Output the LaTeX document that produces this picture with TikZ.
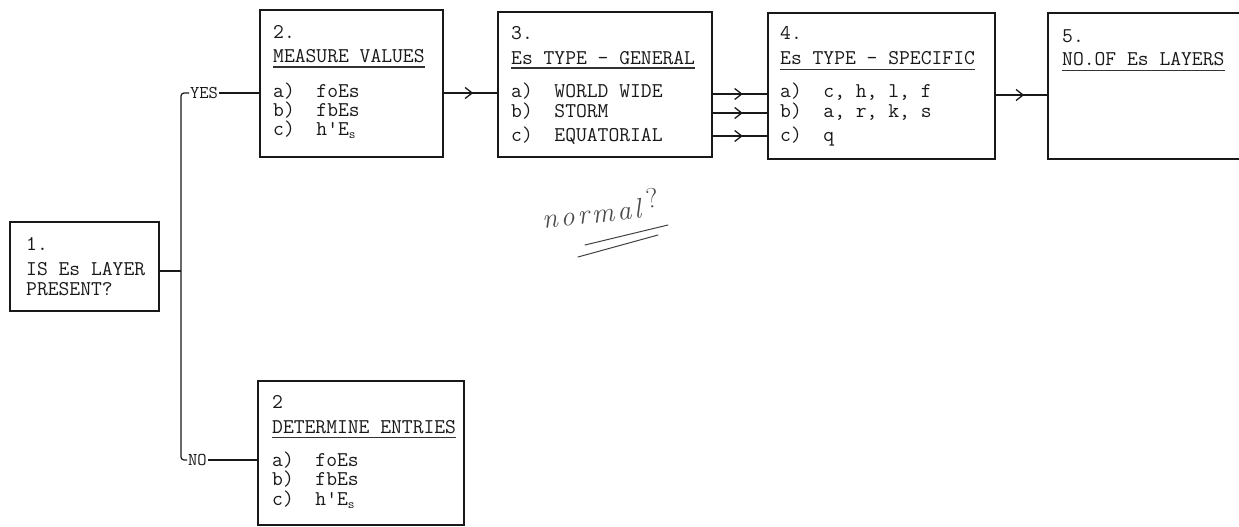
\documentclass[tikz,border=0pt]{standalone}
\usepackage{fontspec}
\usetikzlibrary{arrows.meta,decorations.markings}
\newcommand{\subS}{\raisebox{-3.5pt}{\fontsize{13}{13}\selectfont s}}
\tikzset{
  box/.style={draw=black!90, line width=1.3pt, minimum width=#1, inner sep=0pt, rectangle},
  txt/.style={anchor=base west, inner sep=0pt, font=\ttfamily\fontsize{21}{21}\selectfont, text=black!90},
  lbl/.style={anchor=west, inner sep=1pt, font=\ttfamily\fontsize{18}{18}\selectfont, text=black!90},
  wire/.style={draw=black!90, line width=1.2pt},
  uline/.style={draw=black!80, line width=1.4pt},
  midarrow/.style={wire, postaction={decorate}, decoration={markings,
     mark=at position 0.55 with {\arrow{Straight Barb[length=7pt,width=11pt,line width=1.3pt]}}}},
  hand/.style={draw=black!75, line width=1pt, line cap=round}
}
\begin{document}
\begin{tikzpicture}[x=1pt,y=-1pt]
\useasboundingbox (0,0) rectangle (1239,527);
% boxes
\node[box=149pt, minimum height=89pt] (b1) at (84.5,266.5) {};
\node[box=183pt, minimum height=147pt] (b2) at (351.5,83.5) {};
\node[box=214pt, minimum height=145pt] (b3) at (605,84.5) {};
\node[box=227pt, minimum height=146pt] (b4) at (881.5,86) {};
\node[box=202pt, minimum height=146pt] (b5) at (1149,86) {};
\node[box=206pt, minimum height=144pt] (bn) at (361,453) {};
% box 1 text
\node[txt] (t1a) at (26,250) {1.};
\node[txt] (t1b) at (26,275) {IS Es LAYER};
\node[txt] (t1c) at (26,295) {PRESENT?};
% box 2 text
\node[txt] (t2n) at (273,39) {2.};
\node[txt] (t2h) at (273,63) {MEASURE VALUES};
\node[txt] (t2a) at (273,97) {a)~~foEs};
\node[txt] (t2b) at (273,116) {b)~~fbEs};
\node[txt] (t2c) at (273,135) {c)~~h'E\subS};
\draw[uline] ([yshift=-4pt]t2h.base west) -- ([yshift=-4pt]t2h.base east);
% box 3 text
\node[txt] (t3n) at (511,40) {3.};
\node[txt] (t3h) at (511,64) {Es TYPE - GENERAL};
\node[txt] (t3a) at (511,97) {a)~~WORLD WIDE};
\node[txt] (t3b) at (511,117) {b)~~STORM};
\node[txt] (t3c) at (511,141) {c)~~EQUATORIAL};
\draw[uline] ([yshift=-4pt]t3h.base west) -- ([yshift=-4pt]t3h.base east);
% box 4 text
\node[txt] (t4n) at (780,40) {4.};
\node[txt] (t4h) at (780,65) {Es TYPE - SPECIFIC};
\node[txt] (t4a) at (780,97) {a)~~c, h, l, f};
\node[txt] (t4b) at (780,117) {b)~~a, r, k, s};
\node[txt] (t4c) at (780,141) {c)~~q};
\draw[uline] ([yshift=-4.5pt]t4h.base west) -- ([yshift=-4.5pt]t4h.base east);
% box 5 text
\node[txt] (t5n) at (1062,43) {5.};
\node[txt] (t5h) at (1062,66) {NO.OF Es LAYERS};
\draw[uline] ([yshift=-4.5pt]t5h.base west) -- ([yshift=-4.5pt]t5h.base east);
% NO box text
\node[txt] (tnn) at (272,408) {2};
\node[txt] (tnh) at (272,433) {DETERMINE ENTRIES};
\node[txt] (tna) at (272,466) {a)~~foEs};
\node[txt] (tnb) at (272,485) {b)~~fbEs};
\node[txt] (tnc) at (272,505) {c)~~h'E\subS};
\draw[uline] ([yshift=-4.5pt]tnh.base west) -- ([yshift=-4.5pt]tnh.base east);
% labels
\node[lbl] (yes) at (189,93) {YES};
\node[lbl] (no) at (187,460) {NO};
% trunk
\coordinate (j) at (181,271);
\coordinate (jt) at (181,93);
\coordinate (jb) at (181,460);
\draw[wire, rounded corners=3pt] (yes.west) -- (jt) -- (jb) -- (no.west);
\draw[wire] (b1.east |- j) -- (j);
\draw[wire] (yes.east) -- (b2.west |- yes.east);
\draw[wire] (no.east) -- (bn.west |- no.east);
% arrows
\coordinate (ya) at (0,93);
\coordinate (y3a) at (0,94);
\coordinate (y3b) at (0,113);
\coordinate (y3c) at (0,136);
\coordinate (y4) at (0,95);
\draw[midarrow] (b2.east |- ya) -- (b3.west |- ya);
\draw[midarrow] (b3.east |- y3a) -- (b4.west |- y3a);
\draw[midarrow] (b3.east |- y3b) -- (b4.west |- y3b);
\draw[midarrow] (b3.east |- y3c) -- (b4.west |- y3c);
\draw[midarrow] (b4.east |- y4) -- (b5.west |- y4);
% handwritten note
\node[inner sep=0pt, rotate=6, font=\itshape\fontsize{28}{28}\selectfont, text=black!70] (hw) at (600,208) {n\kern3pt o\kern3pt r\kern3pt m\kern3pt a\kern3pt l\kern6pt\raisebox{9pt}{\upshape ?}};
\coordinate (l1a) at (585,245); \coordinate (l1b) at (668,225);
\coordinate (l2a) at (578,257); \coordinate (l2b) at (658,235);
\draw[hand] (l1a) -- (l1b);
\draw[hand] (l2a) -- (l2b);
\end{tikzpicture}
\end{document}
